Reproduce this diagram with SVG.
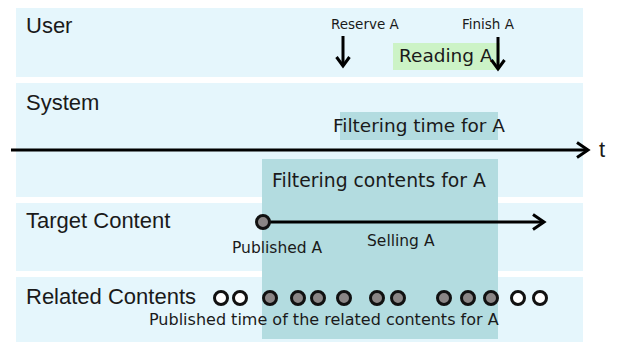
<svg xmlns="http://www.w3.org/2000/svg" width="625" height="345" viewBox="0 0 625 345">
<style>
.band{fill:#e5f6fc}
.teal{fill:#b3dce0}
.lbl{font-family:"Liberation Sans",Arial,sans-serif;font-size:22px;fill:#1a1a1a}
.dv{font-family:"DejaVu Sans",Verdana,sans-serif;fill:#1a1a1a}
.ln{stroke:#000;stroke-width:3;fill:none}
.dotg{fill:#8a8585;stroke:#111;stroke-width:3}
.dotw{fill:#fff;stroke:#111;stroke-width:3}
</style>
<defs>
<marker id="chev" markerUnits="userSpaceOnUse" markerWidth="20" markerHeight="20" viewBox="-14 -10 16 20" refX="0" refY="0" orient="auto">
<path d="M-11 -7.5 L0 0 L-11 7.5" fill="none" stroke="#000" stroke-width="3" stroke-linejoin="miter"/>
</marker>
<marker id="chevs" markerUnits="userSpaceOnUse" markerWidth="20" markerHeight="20" viewBox="-14 -10 16 20" refX="0" refY="0" orient="auto">
<path d="M-9 -6.5 L0 0 L-9 6.5" fill="none" stroke="#000" stroke-width="3" stroke-linejoin="miter"/>
</marker>
</defs>
<rect width="625" height="345" fill="#ffffff"/>
<g id="bands">
<rect class="band" x="16" y="8" width="567" height="69"/>
<rect class="band" x="16" y="83" width="567" height="114"/>
<rect class="band" x="16" y="203" width="567" height="68"/>
<rect class="band" x="16" y="277" width="567" height="65"/>
</g>
<g id="lane-user">
<text class="lbl" x="26" y="33">User</text>
</g>
<g id="lane-system">
<text class="lbl" x="26" y="110">System</text>
</g>
<g id="lane-target">
<text class="lbl" x="26" y="228">Target Content</text>
</g>
<g id="lane-related">
<text class="lbl" x="26" y="304">Related Contents</text>
</g>
<g id="filtering-contents">
<rect class="teal" x="262" y="159" width="236" height="180"/>
<text class="dv" x="272" y="187" font-size="18.8">Filtering contents for A</text>
</g>
<g id="filtering-time">
<rect class="teal" x="340" y="112" width="158" height="28" fill="#bce2e5"/>
<text class="dv" x="333" y="132" font-size="18.5">Filtering time for A</text>
</g>
<g id="reading">
<rect x="393" y="43" width="107" height="27" fill="#ccf3c6"/>
<text class="dv" x="399" y="62" font-size="18.5">Reading A</text>
</g>
<g id="reserve">
<text class="dv" x="331" y="29" font-size="13.5">Reserve A</text>
</g>
<g id="finish">
<text class="dv" x="462" y="29" font-size="13.5">Finish A</text>
</g>
<g id="connectors">
<line class="ln" x1="343" y1="36" x2="343" y2="66" marker-end="url(#chevs)"/>
<line class="ln" x1="498" y1="37" x2="498" y2="69" marker-end="url(#chevs)"/>
<line class="ln" x1="11" y1="150" x2="588" y2="150" marker-end="url(#chev)"/>
<line class="ln" x1="263" y1="222" x2="544" y2="222" marker-end="url(#chev)"/>
</g>
<g id="time-axis">
<text class="lbl" x="599" y="157" font-size="28">t</text>
</g>
<g id="target-content">
<circle class="dotg" cx="263" cy="222" r="6.5"/>
<text class="dv" x="232" y="253" font-size="15.5">Published A</text>
<text class="dv" x="367" y="246" font-size="15.5">Selling A</text>
</g>
<g id="related-contents">
<circle class="dotw" cx="221" cy="298" r="6.5"/>
<circle class="dotw" cx="240" cy="298" r="6.5"/>
<circle class="dotg" cx="270" cy="298" r="6.5"/>
<circle class="dotg" cx="298" cy="298" r="6.5"/>
<circle class="dotg" cx="318" cy="298" r="6.5"/>
<circle class="dotg" cx="344" cy="298" r="6.5"/>
<circle class="dotg" cx="377" cy="298" r="6.5"/>
<circle class="dotg" cx="398" cy="298" r="6.5"/>
<circle class="dotg" cx="444" cy="298" r="6.5"/>
<circle class="dotg" cx="468" cy="298" r="6.5"/>
<circle class="dotg" cx="491" cy="298" r="6.5"/>
<circle class="dotw" cx="518" cy="298" r="6.5"/>
<circle class="dotw" cx="540" cy="298" r="6.5"/>
<text class="dv" x="149" y="325" font-size="16">Published time of the related contents for A</text>
</g>
</svg>
